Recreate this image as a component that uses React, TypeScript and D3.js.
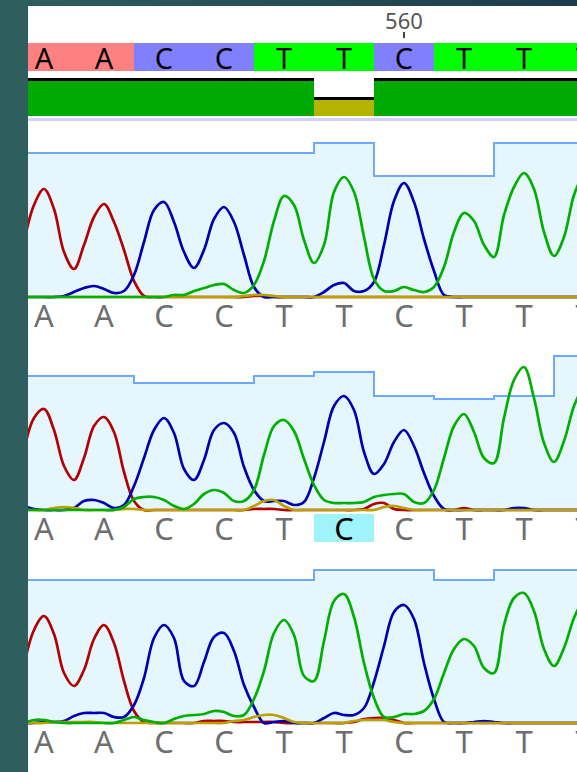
import React from 'react';
import * as d3 from 'd3';

// called bases (top row + panel 1, 3) and the second read's calls
const calls = ['A', 'A', 'C', 'C', 'T', 'T', 'C', 'T', 'T', 'T'];
const calls2 = ['A', 'A', 'C', 'C', 'T', 'C', 'C', 'T', 'T', 'T'];
// trace sample index of every called peak
const peakLocs = [2, 8, 14, 20, 26, 32, 38, 44, 50, 56];
const quality = [40, 40, 40, 40, 40, 20, 40, 40, 40, 40];
const posLabel = { base: 6, text: '560' };
const highlightBase = 5;

// per-base envelope values, one array per read
const env1 = [144, 144, 144, 144, 144, 154, 121, 121, 154, 154];
const env2 = [134, 134, 127, 127, 134, 138, 114, 111, 114, 154];
const env3 = [143, 143, 143, 143, 143, 153, 153, 143, 153, 153];

// trace samples (57 per channel)
const r1A = [55, 92, 108, 88, 45, 28, 52, 80, 93, 75, 47, 16, 1, 0, 0, 0, 0, 0, 0, 0, 0, 0, 0, 1, 1, 0, 0, 0, 0, 0, 0, 0, 0, 0, 0, 0, 0, 0, 0, 0, 0, 0, 0, 0, 0, 0, 0, 0, 0, 0, 0, 0, 0, 0, 0, 0, 0];
const r1C = [0, 0, 0, 0, 1, 5, 9, 11, 8, 4, 6, 22, 55, 87, 95, 75, 45, 29, 47, 78, 90, 75, 42, 10, 0, 0, 0, 0, 0, 0, 5, 12, 14, 6, 6, 15, 52, 96, 114, 95, 58, 26, 2, 0, 0, 0, 0, 0, 0, 0, 0, 0, 0, 0, 0, 0, 0];
const r1G = [0, 0, 0, 0, 0, 0, 0, 0, 0, 0, 0, 0, 0, 0, 0, 0, 0, 0, 0, 0, 0, 0, 1, 2, 2, 1, 0, 0, 0, 0, 0, 0, 0, 0, 0, 0, 0, 0, 0, 0, 0, 0, 0, 0, 0, 0, 0, 0, 0, 0, 0, 0, 0, 0, 0, 0, 0];
const r1T = [0, 0, 0, 0, 0, 0, 0, 0, 0, 0, 0, 0, 0, 0, 0, 2, 2, 6, 9, 12, 13, 7, 4, 12, 36, 76, 101, 92, 57, 34, 52, 105, 120, 105, 60, 18, 6, 6, 10, 7, 5, 10, 30, 65, 84, 76, 52, 40, 82, 110, 124, 108, 65, 41, 60, 102, 125];

const r2A = [60, 92, 101, 80, 44, 30, 52, 84, 93, 78, 38, 9, 0, 0, 0, 0, 0, 0, 0, 0, 0, 0, 0, 1, 1, 1, 0, 0, 0, 0, 0, 0, 0, 0, 1, 6, 7, 1, 0, 0, 0, 0, 0, 0, 2, 0, 0, 0, 0, 0, 0, 0, 0, 0, 0, 0, 0];
const r2C = [4, 1, 0, 0, 0, 2, 9, 10, 7, 2, 5, 24, 52, 80, 92, 77, 41, 30, 50, 80, 87, 77, 43, 20, 9, 9, 9, 5, 8, 32, 68, 104, 114, 100, 58, 36, 46, 68, 80, 64, 37, 14, 1, 0, 0, 0, 0, 0, 0, 2, 2, 0, 0, 0, 0, 0, 0];
const r2G = [0, 0, 0, 2, 3, 2, 0, 0, 0, 0, 1, 1, 0, 0, 0, 0, 0, 0, 0, 0, 0, 0, 0, 4, 9, 10, 4, 0, 0, 0, 0, 0, 0, 0, 0, 0, 3, 4, 2, 0, 0, 0, 0, 0, 0, 0, 0, 0, 0, 0, 0, 0, 0, 0, 0, 0, 0];
const r2T = [0, 0, 0, 0, 0, 0, 0, 0, 0, 0, 3, 11, 13, 13, 10, 4, 1, 6, 16, 20, 17, 9, 9, 20, 55, 84, 90, 79, 51, 25, 10, 7, 7, 7, 8, 13, 15, 16, 16, 8, 7, 20, 52, 84, 96, 78, 52, 47, 92, 130, 143, 112, 67, 48, 69, 104, 125];

const r3A = [58, 93, 107, 89, 50, 37, 53, 84, 98, 80, 42, 12, 1, 0, 0, 0, 0, 0, 2, 2, 2, 1, 1, 1, 1, 1, 0, 0, 0, 0, 0, 0, 0, 1, 4, 5, 5, 3, 0, 0, 0, 0, 0, 0, 0, 0, 0, 0, 0, 0, 0, 0, 0, 0, 0, 0, 0];
const r3C = [0, 0, 1, 1, 2, 7, 10, 10, 10, 6, 6, 18, 45, 85, 98, 85, 42, 37, 61, 86, 90, 72, 38, 16, 0, 1, 2, 0, 0, 0, 5, 10, 8, 8, 15, 41, 77, 111, 118, 104, 60, 24, 1, 0, 0, 1, 2, 1, 0, 0, 0, 0, 0, 0, 0, 0, 0];
const r3G = [0, 0, 0, 1, 1, 1, 1, 1, 0, 0, 0, 0, 0, 0, 0, 0, 0, 0, 0, 0, 0, 2, 3, 6, 8, 8, 5, 1, 0, 0, 0, 0, 0, 2, 3, 3, 3, 1, 0, 0, 0, 0, 0, 0, 0, 0, 0, 0, 0, 0, 0, 0, 0, 0, 0, 0, 0];
const r3T = [0, 3, 3, 1, 0, 0, 0, 0, 0, 0, 3, 6, 3, 1, 0, 4, 7, 8, 9, 12, 11, 7, 8, 24, 52, 90, 103, 88, 47, 42, 82, 122, 129, 106, 60, 25, 6, 6, 9, 9, 12, 24, 50, 74, 84, 77, 55, 50, 98, 125, 130, 112, 74, 57, 75, 105, 125];

const reads = [
  { base: 297, env: env1, calls: calls, A: r1A, C: r1C, G: r1G, T: r1T },
  { base: 510, env: env2, calls: calls2, A: r2A, C: r2C, G: r2G, T: r2T },
  { base: 723, env: env3, calls: calls, A: r3A, C: r3C, G: r3G, T: r3T },
];

const W = 577;
const H = 772;
const left = 28;
const font = '"Noto Sans", "Open Sans", sans-serif';
const baseFill: Record<string, string> = { A: '#ff8080', C: '#8080ff', T: '#00ff00', G: '#000000' };
const traceColor = { A: '#b40000', C: '#0000b0', G: '#bca000', T: '#00b000' };

export default function App() {
  const nSamples = r1A.length;
  const sx = d3.scaleLinear().domain([0, nSamples - 1]).range([24, 584]);
  const half = (sx(peakLocs[1]) - sx(peakLocs[0])) / 2;
  const qy = d3.scaleLinear().domain([0, 40]).range([116, 78]);

  return (
    <div style={{ position: 'absolute', left: 0, top: 0 }}>
      <svg width={W} height={H} style={{ display: 'block' }}>
        <defs>
          <linearGradient id="bg" x1="0" x2="1" y1="0" y2="0">
            <stop offset="0" stopColor="#2e605e" />
            <stop offset="1" stopColor="#1b3b4c" />
          </linearGradient>
          <clipPath id="clip">
            <rect x={left} y={0} width={W - left} height={H} />
          </clipPath>
        </defs>
        <rect width={W} height={H} fill="url(#bg)" />
        <rect x={0} y={0} width={left} height={H} fill="#2e5f5e" />
        <rect x={left} y={6} width={W - left} height={H - 6} fill="#fff" />

        <g clipPath="url(#clip)" fontFamily={font}>
          {/* position label */}
          <text x={sx(peakLocs[posLabel.base])} y={29} fontSize={22} fill="#555" textAnchor="middle">{posLabel.text}</text>
          <line x1={sx(peakLocs[posLabel.base])} x2={sx(peakLocs[posLabel.base])} y1={32} y2={38} stroke="#444" strokeWidth={2} />

          {/* base call row */}
          {calls.map((b, i) => {
            const cx = sx(peakLocs[i]);
            return (
              <g key={'c' + i}>
                <rect x={cx - half} y={43} width={half * 2} height={28} fill={baseFill[b]} />
                <text x={cx} y={69.3} fontSize={29} textAnchor="middle" fill="#000">{b}</text>
              </g>
            );
          })}

          {/* quality bars */}
          {quality.map((q, i) => {
            const cx = sx(peakLocs[i]);
            return (
              <g key={'q' + i}>
                <rect x={cx - half} y={qy(q)} width={half * 2} height={116 - qy(q)} fill={q >= 30 ? '#00aa00' : '#b3b300'} />
                <rect x={cx - half} y={qy(q)} width={half * 2} height={3} fill="#000" />
              </g>
            );
          })}
          <rect x={left} y={118} width={W - left} height={3} fill="#d4d4fb" />

          {reads.map((rd, ri) => {
            const y = d3.scaleLinear().domain([0, 150]).range([rd.base, rd.base - 150]);
            const envPts: [number, number][] = [[left, rd.env[0]]].concat(
              rd.env.map((v, i) => [sx(peakLocs[i]), v] as [number, number])
            ) as [number, number][];
            envPts.push([sx(peakLocs[peakLocs.length - 1]) + half, rd.env[rd.env.length - 1]]);
            const area = d3.area<[number, number]>().x(d => d[0]).y0(rd.base).y1(d => y(d[1])).curve(d3.curveStep);
            const top = d3.line<[number, number]>().x(d => d[0]).y(d => y(d[1])).curve(d3.curveStep);
            const trace = d3.line<number>().x((_, i) => sx(i)).y(d => y(d)).curve(d3.curveCatmullRom.alpha(0.5));
            return (
              <g key={'r' + ri}>
                <path d={area(envPts) || ''} fill="#e5f7fd" />
                <path d={top(envPts) || ''} fill="none" stroke="#6ea8ff" strokeWidth={2} />
                {(['A', 'C', 'G', 'T'] as const).map(ch => (
                  <path key={ch} d={trace(rd[ch]) || ''} fill="none" stroke={traceColor[ch]} strokeWidth={2.7} strokeLinejoin="round" />
                ))}
                {rd.calls.map((b, i) => {
                  const cx = sx(peakLocs[i]);
                  const hl = ri === 1 && i === highlightBase;
                  return (
                    <g key={'b' + i}>
                      {hl && <rect x={cx - half} y={rd.base + 4} width={half * 2} height={28} fill="#9ff4fb" />}
                      <text x={cx} y={rd.base + 30} fontSize={31} textAnchor="middle" fill={hl ? '#000' : '#6e6e6e'}>{b}</text>
                    </g>
                  );
                })}
              </g>
            );
          })}
        </g>
      </svg>
    </div>
  );
}
